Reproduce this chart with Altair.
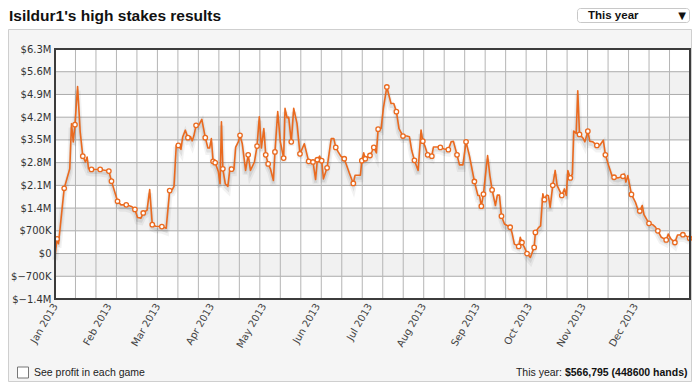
import altair as alt
import pandas as pd

# ---------------- data (profit in $M, day offset from 1 Jan 2013) ----------------
DAYS = [0.0, 1.2, 2.0, 5.3, 8.5, 9.5, 10.5, 11.5, 13.0, 14.5, 16.0, 17.5, 18.5, 19.3, 21.0, 26.0, 31.0, 32.5,
        36.0, 38.0, 41.0, 44.0, 46.0, 47.5, 49.5, 50.8, 53.0, 54.5, 56.0, 58.0, 61.5, 64.0, 66.0, 67.5, 68.5,
        69.8, 71.0, 72.5, 73.5, 75.0, 76.5, 78.0, 79.0, 80.0, 81.2, 82.7, 84.5, 86.5, 88.0, 89.0, 90.0, 91.0,
        92.2, 94.0, 95.0, 95.8, 96.6, 98.0, 99.5, 100.8, 101.6, 103.0, 104.0, 105.5, 106.5, 107.8, 109.7,
        111.2, 112.5, 114.8, 116.3, 117.6, 118.8, 120.2, 121.3, 122.7, 124.0, 125.7, 126.6, 128.2, 129.7,
        131.6, 132.4, 133.6, 134.5, 136.0, 137.4, 139.3, 141.0, 143.5, 146.0, 148.5, 150.0, 151.0, 152.3,
        153.5, 154.5, 156.6, 159.0, 160.5, 161.6, 163.0, 164.5, 166.5, 169.4, 171.7, 172.7, 175.8, 176.6,
        177.7, 178.6, 181.3, 182.5, 183.5, 185.0, 186.0, 187.7, 189.0, 191.0, 193.4, 195.0, 196.5, 198.0,
        200.3, 202.5, 204.0, 205.3, 206.9, 209.0, 210.7, 211.7, 213.0, 214.5, 216.9, 217.8, 220.0, 221.8,
        224.0, 226.4, 228.0, 229.3, 231.4, 232.8, 234.8, 236.6, 238.5, 241.4, 243.4, 244.3, 245.4, 246.6,
        249.0, 250.3, 251.6, 253.5, 254.6, 255.8, 257.0, 258.7, 262.0, 263.0, 264.4, 266.9, 267.8, 268.8,
        270.2, 271.7, 273.6, 275.8, 276.5, 278.3, 279.5, 280.8, 281.7, 283.0, 284.0, 285.0, 286.5, 287.9,
        289.0, 291.7, 293.2, 294.3, 295.2, 296.6, 297.8, 298.6, 300.0, 300.9, 301.9, 304.0, 305.0, 306.7,
        307.8, 309.6, 311.9, 313.5, 315.6, 316.8, 318.6, 320.5, 321.8, 324.0, 326.9, 327.6, 328.6, 329.7,
        331.8, 334.1, 335.4, 336.6, 338.0, 339.0, 341.9, 344.0, 345.5, 347.0, 349.0, 351.8, 353.0, 354.5,
        356.8, 358.3, 361.4, 363.0, 365.3]
PROFIT_M = [-0.08, 0.45, 0.30, 2.01, 2.61, 4.00, 3.44, 3.97, 5.14, 3.75, 3.00, 2.82, 2.97, 2.61, 2.59, 2.59,
            2.54, 2.23, 1.61, 1.50, 1.50, 1.45, 1.36, 1.11, 1.09, 1.25, 1.34, 1.97, 0.89, 0.84, 0.83, 0.78,
            1.94, 1.97, 2.07, 3.33, 3.33, 3.21, 3.59, 3.80, 3.57, 3.60, 3.47, 3.64, 3.95, 3.95, 4.13, 3.57,
            3.25, 3.25, 3.54, 2.84, 2.80, 2.53, 2.15, 4.06, 2.61, 2.15, 2.07, 2.66, 2.60, 2.60, 3.28, 3.44,
            3.64, 3.38, 2.56, 3.04, 2.56, 2.82, 3.31, 4.21, 3.25, 3.85, 3.04, 2.76, 2.61, 2.25, 3.13, 4.37,
            3.44, 2.94, 4.47, 4.18, 4.20, 3.44, 4.47, 4.00, 3.07, 3.38, 2.84, 2.82, 2.28, 2.89, 3.00, 2.86,
            2.30, 2.64, 3.54, 3.54, 3.27, 3.13, 3.00, 2.92, 2.48, 2.16, 2.41, 2.41, 2.86, 3.10, 2.92, 3.02,
            3.15, 3.27, 3.10, 3.83, 3.85, 4.47, 5.13, 4.62, 4.62, 4.37, 3.85, 3.62, 3.62, 3.60, 3.18, 2.87,
            2.56, 3.80, 3.46, 3.30, 3.04, 3.00, 3.28, 3.28, 3.27, 3.22, 3.20, 3.44, 3.46, 3.04, 2.73, 2.73,
            3.44, 3.02, 2.22, 1.79, 1.79, 1.46, 1.83, 3.02, 2.41, 1.96, 1.48, 1.80, 1.80, 1.15, 0.91, 0.81,
            0.65, 0.29, 0.22, 0.50, 0.34, 0.19, 0.00, -0.12, 0.19, 0.65, 0.80, 0.85, 1.84, 1.66, 1.80, 1.78,
            1.42, 2.10, 2.56, 2.10, 1.79, 1.99, 1.79, 2.56, 2.33, 2.45, 3.77, 3.70, 5.01, 3.67, 3.55, 3.44,
            3.77, 3.46, 3.44, 3.33, 3.33, 3.49, 3.04, 2.72, 2.41, 2.35, 2.33, 2.38, 2.45, 2.20, 2.40, 1.82,
            1.58, 1.37, 1.31, 1.48, 1.20, 0.93, 0.89, 0.82, 0.70, 0.50, 0.42, 0.60, 0.45, 0.34, 0.57, 0.58,
            0.55, 0.47]
MARKED = [0, 1, 0, 1, 0, 0, 0, 1, 0, 0, 1, 0, 0, 0, 1, 1, 1, 1, 1, 0, 1, 0, 1, 0, 0, 1, 0, 0, 1, 0, 1, 0,
          1, 0, 0, 0, 1, 0, 0, 0, 1, 0, 0, 0, 1, 0, 0, 1, 0, 0, 0, 1, 1, 0, 0, 0, 1, 0, 0, 0, 1, 0, 0, 0,
          1, 0, 0, 1, 0, 0, 1, 0, 0, 0, 1, 1, 0, 0, 1, 0, 0, 1, 0, 0, 0, 1, 0, 0, 1, 0, 1, 1, 0, 1, 0, 1,
          0, 1, 0, 0, 1, 0, 0, 1, 0, 1, 0, 0, 1, 0, 1, 1, 0, 1, 0, 1, 0, 0, 1, 0, 0, 1, 0, 1, 0, 0, 0, 1,
          0, 0, 1, 0, 1, 1, 0, 0, 1, 0, 1, 0, 0, 1, 0, 0, 1, 0, 1, 0, 0, 1, 1, 0, 0, 1, 0, 0, 0, 1, 0, 1,
          0, 0, 1, 0, 1, 0, 1, 0, 1, 1, 0, 0, 0, 1, 0, 0, 0, 1, 0, 0, 1, 0, 0, 0, 1, 0, 0, 0, 0, 1, 0, 0,
          1, 0, 0, 1, 0, 0, 1, 0, 0, 1, 0, 1, 0, 0, 0, 1, 0, 0, 1, 0, 0, 1, 0, 0, 1, 0, 1, 0, 0, 1, 0, 1,
          0, 1]

Y_TICKS = [-1.4, -0.7, 0.0, 0.7, 1.4, 2.1, 2.8, 3.5, 4.2, 4.9, 5.6, 6.3]
BAND_LO = [-0.7, 0.7, 2.1, 3.5, 4.9]
BAND_HI = [0.0, 1.4, 2.8, 4.2, 5.6]
MONTH_TICKS = list(range(1, 13))
N_VGRID = 32

TITLE = "Isildur1's high stakes results"
PERIOD = "This year"
CHECK_LABEL = "See profit in each game"
SUMMARY_LABEL = "This year:"
SUMMARY_VALUE = "$566,795 (448600 hands)"

# ---------------- tables ----------------
base_day = pd.Timestamp("2013-01-01")
df = pd.DataFrame({
    "date": (base_day + pd.to_timedelta(DAYS, unit="D")).strftime("%Y-%m-%dT%H:%M:%S"),
    "value": PROFIT_M,
    "m": MARKED,
})
bands = pd.DataFrame({"lo": BAND_LO, "hi": BAND_HI})
hgrid = pd.DataFrame({"v": Y_TICKS})
vgrid = pd.DataFrame({"d": pd.date_range("2013-01-01T00:00:00", "2014-01-01T12:00:00",
                                          periods=N_VGRID).strftime("%Y-%m-%dT%H:%M:%S")})
one = alt.Data(values=[{}])

W, H = 635, 250
LINE = "#ea6a1f"
FONT = "DejaVu Sans"
SANS = "Liberation Sans"

xscale = alt.Scale(domain=[alt.DateTime(year=2013, month=1, date=1),
                           alt.DateTime(year=2014, month=1, date=1, hours=12)])
yscale = alt.Scale(domain=[-1.4, 6.3], nice=False, zero=False)

x_axis = alt.Axis(values=[alt.DateTime(year=2013, month=m, date=1) for m in MONTH_TICKS],
                  format="%b %Y", labelAngle=-60, labelAlign="right", labelBaseline="middle",
                  labelFont=FONT, labelFontSize=10, labelColor="#444", labelPadding=5,
                  labelFlush=False, labelOverlap=False, ticks=False, domain=False, grid=False,
                  title=None, zindex=1)
y_axis = alt.Axis(values=Y_TICKS,
                  labelExpr="datum.value == 0 ? '$0' : (abs(datum.value) >= 1 ? '$' + format(datum.value, '.1f') + 'M' : '$' + format(datum.value * 1000, '.0f') + 'K')",
                  labelFont=FONT, labelFontSize=10, labelColor="#333", labelPadding=4,
                  ticks=False, domain=False, grid=False, title=None, zindex=1)

XD = alt.X("date:T", scale=xscale, axis=x_axis)
YV = alt.Y("value:Q", scale=yscale, axis=y_axis)


def box(x1, x2, y1, y2, **kw):
    return alt.Chart(one).mark_rect(**kw).encode(
        x=alt.value(x1), x2=alt.value(x2), y=alt.value(y1), y2=alt.value(y2))


def txt(s, x, y, **kw):
    return alt.Chart(one).mark_text(**kw).encode(x=alt.value(x), y=alt.value(y), text=alt.value(s))


panel = box(-46.5, 636.5, -19.5, 332.5, fill="#f5f5f5", stroke="#cfcfcf", strokeWidth=1)
plot_bg = box(0, "width", 0, "height", fill="white")

band_layer = alt.Chart(bands).mark_rect(fill="#f1f1f1").encode(
    x=alt.value(0), x2=alt.value("width"),
    y=alt.Y("lo:Q", scale=yscale, axis=y_axis), y2="hi:Q")

hgrid_layer = alt.Chart(hgrid).mark_rule(color="#ababab", strokeWidth=1).encode(
    x=alt.value(0), x2=alt.value("width"), y=alt.Y("v:Q", scale=yscale, axis=y_axis))

vgrid_layer = alt.Chart(vgrid).mark_rule(color="#b5b5b5", strokeWidth=1).encode(
    x=alt.X("d:T", scale=xscale, axis=x_axis), y=alt.value(0), y2=alt.value("height"))

shadow1 = alt.Chart(df).mark_line(color="#000", strokeWidth=6, opacity=0.05, yOffset=4).encode(x=XD, y=YV)
shadow2 = alt.Chart(df).mark_line(color="#000", strokeWidth=3, opacity=0.08, yOffset=3).encode(x=XD, y=YV)

line = alt.Chart(df).mark_line(color=LINE, strokeWidth=1.6, strokeJoin="round").encode(x=XD, y=YV)

points = alt.Chart(df).transform_filter("datum.m == 1").mark_point(
    shape="circle", filled=True, fill="white", stroke=LINE, strokeWidth=1.3, size=20, opacity=1).encode(
    x=XD, y=YV)

frame = box(0, "width", 0, "height", fillOpacity=0, stroke="#3c3c3c", strokeWidth=2)

title = txt(TITLE, -46, -28.5, font=SANS, fontSize=15.5, fontWeight="bold",
            color="#111", align="left", baseline="alphabetic")
drop_box = box(522.5, 634.5, -40.5, -26.5, fill="white", stroke="#c8c8c8", strokeWidth=1, cornerRadius=3)
drop_txt = txt(PERIOD, 533, -33.5, font=SANS, fontSize=11.5, fontWeight="bold",
               color="#111", align="left", baseline="middle")
drop_arrow = txt("▼", 627, -33.5, font=FONT, fontSize=10, color="#111", align="center", baseline="middle")

check_box = box(-37.5, -26.5, 318, 329, fill="white", stroke="#777", strokeWidth=1)
check_txt = txt(CHECK_LABEL, -21, 323.5, font=SANS, fontSize=10.5, color="#222",
                align="left", baseline="middle")
sum_lbl = txt(SUMMARY_LABEL, 507, 323.5, font=SANS, fontSize=10.5, color="#222",
              align="right", baseline="middle")
sum_val = txt(SUMMARY_VALUE, 632.5, 323.5, font=SANS, fontSize=10.5, fontWeight="bold",
              color="#111", align="right", baseline="middle")

chart = alt.layer(
    panel, plot_bg, band_layer, hgrid_layer, vgrid_layer, shadow1, shadow2, line, points, frame,
    title, drop_box, drop_txt, drop_arrow, check_box, check_txt, sum_lbl, sum_val
).properties(
    width=W, height=H,
    autosize=alt.AutoSizeParams(type="none"),
    padding={"left": 47, "top": 41, "right": 2, "bottom": 83},
).configure(background="white").configure_view(stroke="transparent")

chart.save("out.html", embed_options={"renderer": "svg", "actions": False})
